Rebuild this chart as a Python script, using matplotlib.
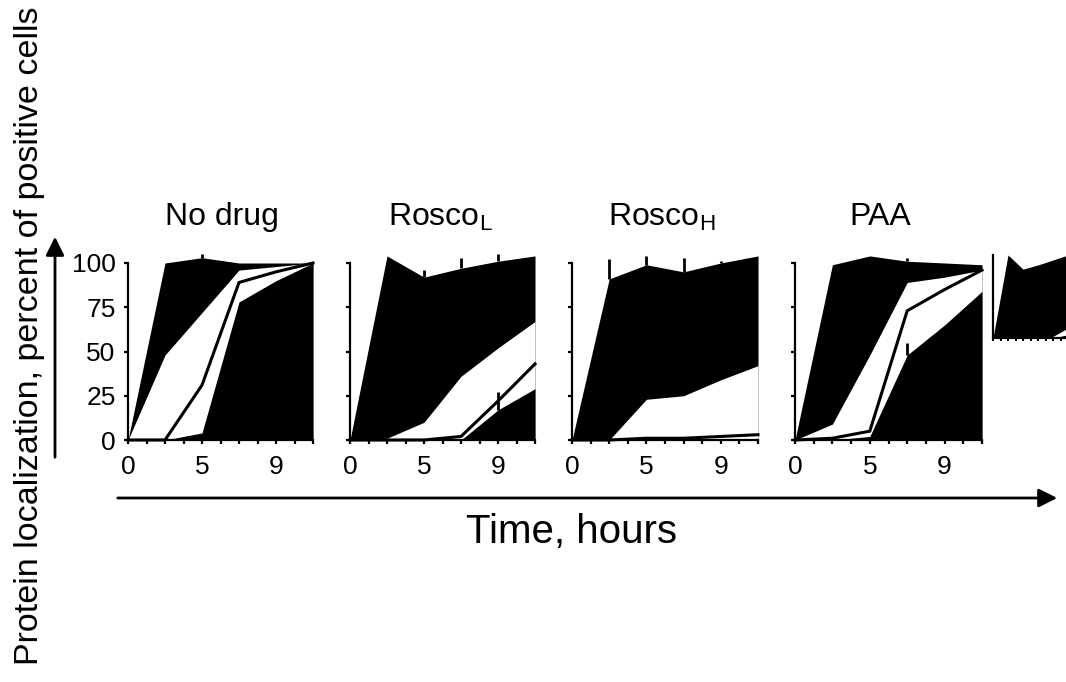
import matplotlib
matplotlib.use("Agg")
import matplotlib.pyplot as plt
import numpy as np

plt.rcParams['font.family'] = ['Liberation Sans', 'DejaVu Sans']
plt.rcParams['mathtext.fontset'] = 'custom'
plt.rcParams['mathtext.rm'] = 'Liberation Sans'

# ---- data (time points are categorical: 6 sampling points) ----
time_idx = [0, 1, 2, 3, 4, 5]
xtick_pos = [0, 2, 4]
xtick_labels = ["0", "5", "9"]
ytick_vals = [0, 25, 50, 75, 100]
titles = ["No drug", r"Rosco$_\mathregular{L}$", r"Rosco$_\mathregular{H}$", "PAA"]

# outer (top) curve, black fill
nodrug_A = [0, 100, 103, 100, 100, 100]
roscoL_A = [0, 104, 92, 97, 101, 104]
roscoH_A = [0, 91, 99, 95, 100, 104]
paa_A = [0, 99, 104, 101, 100, 99]
# second curve, white fill
nodrug_B = [0, 48, 72, 96, 98, 100]
roscoL_B = [0, 1, 10, 36, 52, 67]
roscoH_B = [0, 0, 23, 25, 34, 42]
paa_B = [0, 9, 48, 89, 92, 96]
# third curve, black line
nodrug_C = [0, 0, 31, 89, 95, 100]
roscoL_C = [0, 0, 0, 2, 22, 43]
roscoH_C = [0, 0, 1, 1, 2, 3]
paa_C = [0, 1, 5, 73, 85, 96]
# bottom curve, black fill
nodrug_D = [0, 0, 4, 78, 90, 100]
roscoL_D = [0, 0, 0, 0, 17, 29]
roscoH_D = [0, 0, 0, 0, 0, 0]
paa_D = [0, 0, 2, 48, 65, 84]
# upper error bars
nodrug_errA = [0, 0, 2, 0, 0, 0]
roscoL_errA = [0, 0, 4, 6, 4, 0]
roscoH_errA = [0, 11, 5, 8, 1, 0]
paa_errA = [0, 0, 0, 2, 0, 0]
nodrug_errD = [0, 0, 0, 0, 0, 0]
roscoL_errD = [0, 0, 0, 0, 10, 0]
roscoH_errD = [0, 0, 0, 0, 0, 0]
paa_errD = [0, 0, 0, 7, 0, 0]

# partially visible fifth panel (cut off at the right edge)
extra_A = [0, 100, 83, 88, 94, 100]
extra_B = [0, 0, 0, 0, 2, 12]
extra_D = [0, 0, 0, 0, 0, 4]

panels = [
    (nodrug_A, nodrug_B, nodrug_C, nodrug_D, nodrug_errA, nodrug_errD),
    (roscoL_A, roscoL_B, roscoL_C, roscoL_D, roscoL_errA, roscoL_errD),
    (roscoH_A, roscoH_B, roscoH_C, roscoH_D, roscoH_errA, roscoH_errD),
    (paa_A, paa_B, paa_C, paa_D, paa_errA, paa_errD),
]

W, H = 1066, 682
fig = plt.figure(figsize=(W / 100, H / 100), dpi=100)


def rect(x0, x1, ytop, ybot):
    return [x0 / W, 1 - ybot / H, (x1 - x0) / W, (ybot - ytop) / H]


lefts = [128, 350, 572, 795]
rights = [313, 535, 758, 982]
title_x = [222, 440, 662, 880]

x = np.array(time_idx)
for i, (A, B, C, D, eA, eD) in enumerate(panels):
    ax = fig.add_axes(rect(lefts[i], rights[i], 263, 440))
    ax.fill_between(x, 0, A, color='black', lw=0, clip_on=False)
    ax.fill_between(x, 0, B, color='white', lw=0, clip_on=False)
    ax.fill_between(x, 0, D, color='black', lw=0, clip_on=False)
    ax.plot(x, C, color='black', lw=2.2, clip_on=False, solid_joinstyle='miter')
    ax.errorbar(x, A, yerr=[np.zeros(len(x)), eA], fmt='none', ecolor='black',
                elinewidth=2, capsize=0, clip_on=False)
    ax.errorbar(x, D, yerr=[np.zeros(len(x)), eD], fmt='none', ecolor='black',
                elinewidth=2, capsize=0, clip_on=False)
    ax.set_xlim(0, 5)
    ax.set_ylim(0, 100)
    for s in ['top', 'right']:
        ax.spines[s].set_visible(False)
    ax.spines['left'].set_linewidth(1.6)
    ax.spines['bottom'].set_linewidth(1.6)
    ax.set_xticks(xtick_pos)
    ax.set_xticklabels(xtick_labels, fontsize=19)
    ax.set_xticks(np.arange(0, 5.01, 0.5), minor=True)
    ax.tick_params(axis='x', which='both', direction='out', length=3, width=1.6, pad=8)
    ax.set_yticks(ytick_vals)
    ax.tick_params(axis='y', direction='out', length=3, width=1.6, pad=6)
    if i == 0:
        ax.set_yticklabels([str(v) for v in ytick_vals], fontsize=19)
    else:
        ax.set_yticklabels([])
    fig.text(title_x[i] / W, 1 - 217 / H, titles[i], fontsize=23,
             ha='center', va='center')

# fifth, cropped panel
ax5 = fig.add_axes(rect(993, 1068, 255, 338))
ax5.fill_between(x, 0, extra_A, color='black', lw=0, clip_on=False)
ax5.fill_between(x, 0, extra_B, color='white', lw=0, clip_on=False)
ax5.fill_between(x, 0, extra_D, color='black', lw=0, clip_on=False)
ax5.set_xlim(0, 5)
ax5.set_ylim(0, 100)
for s in ['top', 'right']:
    ax5.spines[s].set_visible(False)
ax5.spines['left'].set_linewidth(1.6)
ax5.spines['bottom'].set_linewidth(1.6)
ax5.set_xticks(np.arange(0, 5.01, 0.5))
ax5.set_xticklabels([])
ax5.set_yticks([])
ax5.tick_params(axis='x', direction='out', length=2, width=1.4)

# axis titles and arrows
fig.text(30 / W, 1 - 336 / H, "Protein localization, percent of positive cells",
         rotation=90, fontsize=24.5, ha='center', va='center')
fig.text(572 / W, 1 - 532 / H, "Time, hours", fontsize=29, ha='center', va='center')

fig.add_artist(matplotlib.patches.FancyArrowPatch(
    (115 / W, 1 - 498 / H), (1060 / W, 1 - 498 / H), transform=fig.transFigure,
    arrowstyle='-|>', mutation_scale=28, lw=2, color='black'))
fig.add_artist(matplotlib.patches.FancyArrowPatch(
    (55 / W, 1 - 460 / H), (55 / W, 1 - 234 / H), transform=fig.transFigure,
    arrowstyle='-|>', mutation_scale=28, lw=2, color='black'))

fig.savefig("out.png", dpi=100)
